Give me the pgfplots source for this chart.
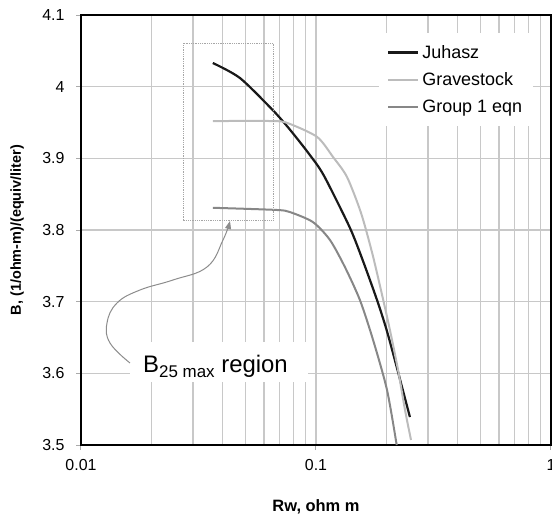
\documentclass[border=0pt]{standalone}
\usepackage{fontspec}
\setmainfont{Liberation Sans}
\usepackage{pgfplots}
\pgfplotsset{compat=1.18}
\usetikzlibrary{arrows.meta}
\definecolor{gridc}{RGB}{200,200,200}
\definecolor{tickc}{RGB}{170,170,170}
\definecolor{juh}{RGB}{25,25,25}
\definecolor{grav}{RGB}{188,188,188}
\definecolor{grp}{RGB}{135,135,135}
\definecolor{arrc}{RGB}{140,140,140}

\begin{document}
\begin{tikzpicture}
\begin{axis}[
  at={(0bp,0bp)}, anchor=south west,
  scale only axis, width=470bp, height=430bp,
  xmode=log, xmin=0.01, xmax=1, ymin=3.5, ymax=4.1,
  xtick={0.01,0.1,1}, xticklabels={0.01,0.1,1},
  ytick={3.5,3.6,3.7,3.8,3.9,4.0,4.1},
  yticklabels={3.5,3.6,3.7,3.8,3.9,4,4.1},
  /pgf/number format/assume math mode=true,
  grid=both,
  major grid style={gridc, line width=1.4bp},
  minor grid style={gridc, line width=1.4bp},
  tick align=outside, major tick length=5bp, minor tick length=0bp,
  tick style={tickc, line width=1bp},
  xtick pos=bottom, ytick pos=left,
  axis line style={black, line width=1.5bp},
  ticklabel style={font=\fontsize{16}{18}\selectfont},
  xticklabel style={yshift=-6bp},
  yticklabel style={xshift=-8bp},
  xlabel={\textbf{Rw, ohm m}},
  ylabel={\textbf{B, (1/ohm-m)/(equiv/liter)}},
  xlabel style={at={(axis description cs:0.5,-0.144)}, anchor=center, font=\fontsize{16.5}{19}\selectfont},
  ylabel style={at={(axis description cs:-0.136,0.5)}, anchor=center, font=\fontsize{14.5}{17}\selectfont},
  legend style={at={(axis description cs:0.634,0.958)}, anchor=north west,
    draw=none, fill=white, font=\fontsize{18}{21}\selectfont,
    inner xsep=8bp, inner ysep=11bp, row sep=11bp,
    nodes={inner xsep=3bp, inner ysep=1bp}},
  legend cell align=left,
  legend image code/.code={\draw[#1] (0bp,0bp) -- (30bp,0bp);},
]
\addplot[juh, line width=2.2bp, smooth, tension=0.45] coordinates {
(0.0364,4.033) (0.0475,4.012) (0.0656,3.967) (0.0775,3.940) (0.094,3.905)
(0.108,3.876) (0.139,3.804) (0.158,3.758) (0.182,3.702) (0.200,3.660)
(0.2234,3.602) (0.251,3.539)};
\addlegendentry{Juhasz}
\addplot[grav, line width=2bp, smooth, tension=0.45] coordinates {
(0.0364,3.952) (0.0656,3.952) (0.0760,3.949) (0.101,3.930) (0.1181,3.902)
(0.1355,3.874) (0.1554,3.824) (0.1731,3.769) (0.1891,3.716) (0.2065,3.660)
(0.2234,3.605) (0.2392,3.549) (0.2537,3.507)};
\addlegendentry{Gravestock}
\addplot[grp, line width=2bp, smooth, tension=0.45] coordinates {
(0.0364,3.831) (0.0676,3.828) (0.0775,3.825) (0.0971,3.811) (0.1147,3.786)
(0.1329,3.748) (0.1539,3.702) (0.1748,3.647) (0.2005,3.577) (0.2205,3.500)};
\addlegendentry{Group 1  eqn}
\draw[black!35, densely dotted, line width=0.8bp] (axis cs:0.02716,3.814) rectangle (axis cs:0.0656,4.061);
\end{axis}
% annotation (plot box at (0,0)-(470bp,430bp))
\fill[white] (49bp,63bp) rectangle (227bp,103bp);
\node[anchor=base west, inner sep=0pt, font=\fontsize{24}{28}\selectfont] at (62bp,72bp)
  {B\raisebox{-5bp}{\fontsize{17}{20}\selectfont 25 max} region};
\draw[arrc, line width=1bp, -{Triangle[length=8bp,width=6bp]}]
  plot[smooth, tension=0.7] coordinates {(49bp,82bp) (29bp,102bp) (26bp,122bp) (36bp,142bp) (59bp,155bp) (92bp,165bp) (126bp,178bp) (142bp,205bp) (149bp,224bp)};
\pgfresetboundingbox
\path[use as bounding box] (-81bp,-75bp) rectangle (471bp,445bp);
\end{tikzpicture}
\end{document}
